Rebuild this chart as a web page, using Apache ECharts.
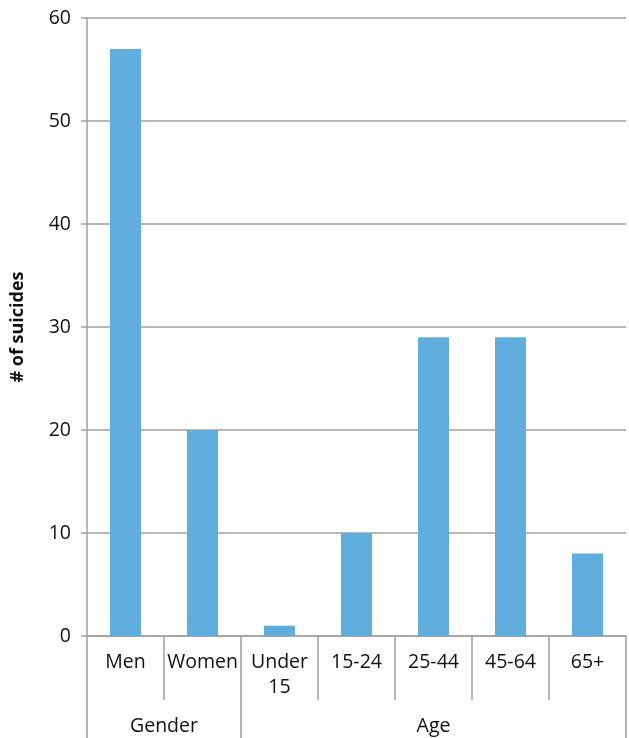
<!DOCTYPE html>
<html lang="en">
<head>
    <meta charset="UTF-8">
    <title># of suicides</title>
    <script src="https://cdn.jsdelivr.net/npm/echarts@6/dist/echarts.min.js"></script>
    <style>
        html, body { margin: 0; padding: 0; background: #fff; }
        #chart { width: 629px; height: 738px; }
    </style>
</head>
<body>
    <div id="chart"></div>
    <script>
        // data
        var categories = ['Men', 'Women', 'Under\n15', '15-24', '25-44', '45-64', '65+'];
        var suicides = [57, 20, 1, 10, 29, 29, 8];
        // group row: 15 half-step points, group names sit on their centre point
        var groupLabels = ['', '', 'Gender', '', '', '', '', '', '', 'Age', '', '', '', '', ''];
        var groupEdges = [0, 4, 14];
        var yTicks = [0, 10, 20, 30, 40, 50, 60];

        var font = '"Open Sans", "Noto Sans", sans-serif';
        var lineColor = '#a0a0a0';

        var chart = echarts.init(document.getElementById('chart'));

        chart.setOption({
            animation: false,
            grid: { left: 87, right: 1, top: 18, bottom: 102, containLabel: false },
            xAxis: [{
                type: 'category',
                data: categories,
                position: 'bottom',
                axisLine: { lineStyle: { color: lineColor, width: 1.5 } },
                axisTick: { show: true, length: 64, lineStyle: { color: lineColor, width: 1.5 } },
                axisLabel: {
                    interval: 0, margin: 14, color: '#111',
                    fontFamily: font, fontSize: 19.5, lineHeight: 25, verticalAlign: 'top'
                },
                splitLine: { show: false }
            }, {
                type: 'category',
                data: groupLabels,
                boundaryGap: false,
                position: 'bottom',
                axisLine: { show: false },
                axisTick: {
                    show: true, length: 110,
                    interval: function (i) { return groupEdges.indexOf(i) >= 0; },
                    lineStyle: { color: lineColor, width: 1.5 }
                },
                axisLabel: {
                    interval: 0, margin: 80, color: '#111',
                    fontFamily: font, fontSize: 19.5, verticalAlign: 'top'
                },
                splitLine: { show: false }
            }],
            yAxis: {
                type: 'value',
                min: yTicks[0],
                max: yTicks[yTicks.length - 1],
                interval: 10,
                name: '# of suicides',
                nameLocation: 'middle',
                nameGap: 60,
                nameTextStyle: { fontFamily: font, fontSize: 18, fontWeight: 'bold', color: '#111' },
                axisLine: { show: true, lineStyle: { color: lineColor, width: 1.5 } },
                axisTick: { show: true, length: 6, lineStyle: { color: lineColor, width: 1.5 } },
                axisLabel: { margin: 16, color: '#111', fontFamily: font, fontSize: 19.5 },
                splitLine: { show: true, lineStyle: { color: lineColor, width: 1.5 } }
            },
            series: [{
                type: 'bar',
                data: suicides,
                barWidth: 31,
                itemStyle: { color: '#5FAEDD' }
            }]
        });
    </script>
</body>
</html>
